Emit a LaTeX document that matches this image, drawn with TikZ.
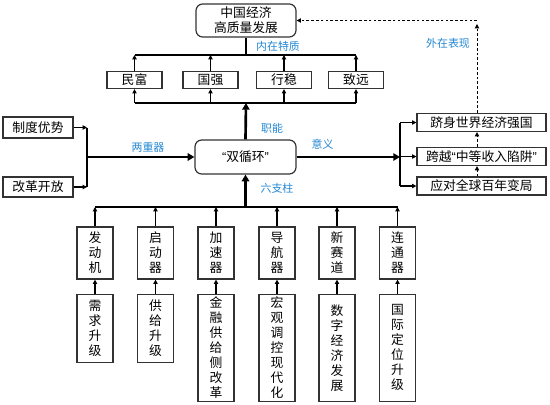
\documentclass[tikz,border=0pt]{standalone}
\usepackage{fontspec}
\setmainfont{Noto Sans CJK SC}
\newfontfamily\qf{Liberation Sans}
\usetikzlibrary{arrows.meta}
\definecolor{lblue}{RGB}{35,135,210}
\definecolor{edge}{RGB}{50,50,50}
\tikzset{
  box/.style={draw=edge, line width=0.9pt, inner sep=0pt, align=center,
    font=\fontsize{9.6}{11.25}\selectfont},
  rbox/.style={box, rounded corners=5pt},
  wh/.style 2 args={minimum width=#1*0.75pt, minimum height=#2*0.75pt},
  lbl/.style={text=lblue, font=\fontsize{8.2}{10}\selectfont, inner sep=0pt},
  ln/.style={draw=black, line width=0.8pt},
  arr/.style={ln, -{Triangle[length=3.2pt,width=3.2pt]}},
  thk/.style={draw=black, line width=2pt, -{Triangle[length=5pt,width=5.5pt]}},
  dsh/.style={draw=black, line width=0.7pt, dash pattern=on 2pt off 1.6pt},
  darr/.style={dsh, -{Triangle[length=3.2pt,width=3.2pt]}}
}
\begin{document}
\begin{tikzpicture}[x=0.75pt, y=-0.75pt]
\useasboundingbox (0,0) rectangle (550,404);
% top
\node[rbox, wh={100}{33}] (goal) at (246,20.5) {中国经济\\高质量发展};
\node[lbl] (l1) at (278,46) {内在特质};
% four traits
\node[box, wh={55}{17}] (t1) at (134.5,80) {民富};
\node[box, wh={55}{17}] (t2) at (210.5,80) {国强};
\node[box, wh={55}{17}] (t3) at (284,80) {行稳};
\node[box, wh={55}{17}] (t4) at (356,80) {致远};
\coordinate (busT) at (246,55);
\coordinate (busB) at (246,103);
\draw[ln] (goal.south) -- (busT);
\draw[ln] (t1.north |- busT) -- (t4.north |- busT);
\draw[ln] (t1.south |- busB) -- (t4.south |- busB);
\foreach \t in {t1,t2,t3,t4}{
  \draw[arr] (\t.north) -- (\t.north |- busT);
  \draw[arr] (\t.south |- busB) -- (\t.south);
}
% centre
\node[rbox, wh={101}{34}] (dc) at (245.5,157) {{\qf“}双循环{\qf”}};
\draw[thk] (dc.north) -- (busB);
\node[lbl] (l2) at (272,128) {职能};
% left
\node[box, wh={70}{21}] (a1) at (38,127.5) {制度优势};
\node[box, wh={70}{20}] (a2) at (38,187) {改革开放};
\coordinate (jl) at (87,157);
\draw[arr] (a1.east) -- (a1.east -| jl);
\draw[arr] (a2.east) -- (a2.east -| jl);
\draw[ln] (a1.east -| jl) -- (a2.east -| jl);
\draw[thk] (jl) -- (dc.west);
\node[lbl] (l3) at (148,147) {两重器};
% right
\node[box, wh={129}{18}] (r1) at (481.5,122.5) {跻身世界经济强国};
\node[box, wh={129}{18}] (r2) at (481.5,156.5) {跨越{\qf“}中等收入陷阱{\qf”}};
\node[box, wh={129}{18}] (r3) at (481.5,186) {应对全球百年变局};
\coordinate (jr) at (400,157);
\draw[thk] (dc.east) -- (jr);
\draw[ln] (r1.west -| jr) -- (r3.west -| jr);
\foreach \r in {r1,r2,r3}{ \draw[arr] (\r.west -| jr) -- (\r.west); }
\node[lbl] (l4) at (322.5,144) {意义};
% dashed
\coordinate (dx) at (477,0);
\coordinate (dtop) at (477,24);
\coordinate (dcor) at (477,20.5);
\draw[darr] (r3.north -| dx) -- (r2.south -| dx);
\draw[darr] (r2.north -| dx) -- (r1.south -| dx);
\draw[darr] (r1.north -| dx) -- (dtop);
\draw[darr] (dcor) -- (goal.east);
\node[lbl] (l5) at (448,43) {外在表现};
% pillars
\node[lbl] (l6) at (277,188.5) {六支柱};
\coordinate (busP) at (245.5,207);
\draw[thk] (busP) -- (dc.south);
\foreach \n/\x/\top/\bot/\bh in {
  p1/95/发\\动\\机/需\\求\\升\\级/68.5,
  p2/155.5/启\\动\\器/供\\给\\升\\级/68.5,
  p3/216/加\\速\\器/金\\融\\供\\给\\侧\\改\\革/107.5,
  p4/277/导\\航\\器/宏\\观\\调\\控\\现\\代\\化/107.5,
  p5/337/新\\赛\\道/数\\字\\经\\济\\发\\展/107.5,
  p6/397.5/连\\通\\器/国\\际\\定\\位\\升\\级/107.5}{
  \node[box, wh={36}{52}] (\n) at (\x,253) {\top};
  \node[box, wh={36}{\bh}, anchor=north] (\n b) at (\x,293.5) {\bot};
  \draw[arr] (\n b.north) -- (\n.south);
  \draw[arr] (\n.north) -- (\n.north |- busP);
}
\draw[ln] (p1.north |- busP) -- (p6.north |- busP);
\end{tikzpicture}
\end{document}
